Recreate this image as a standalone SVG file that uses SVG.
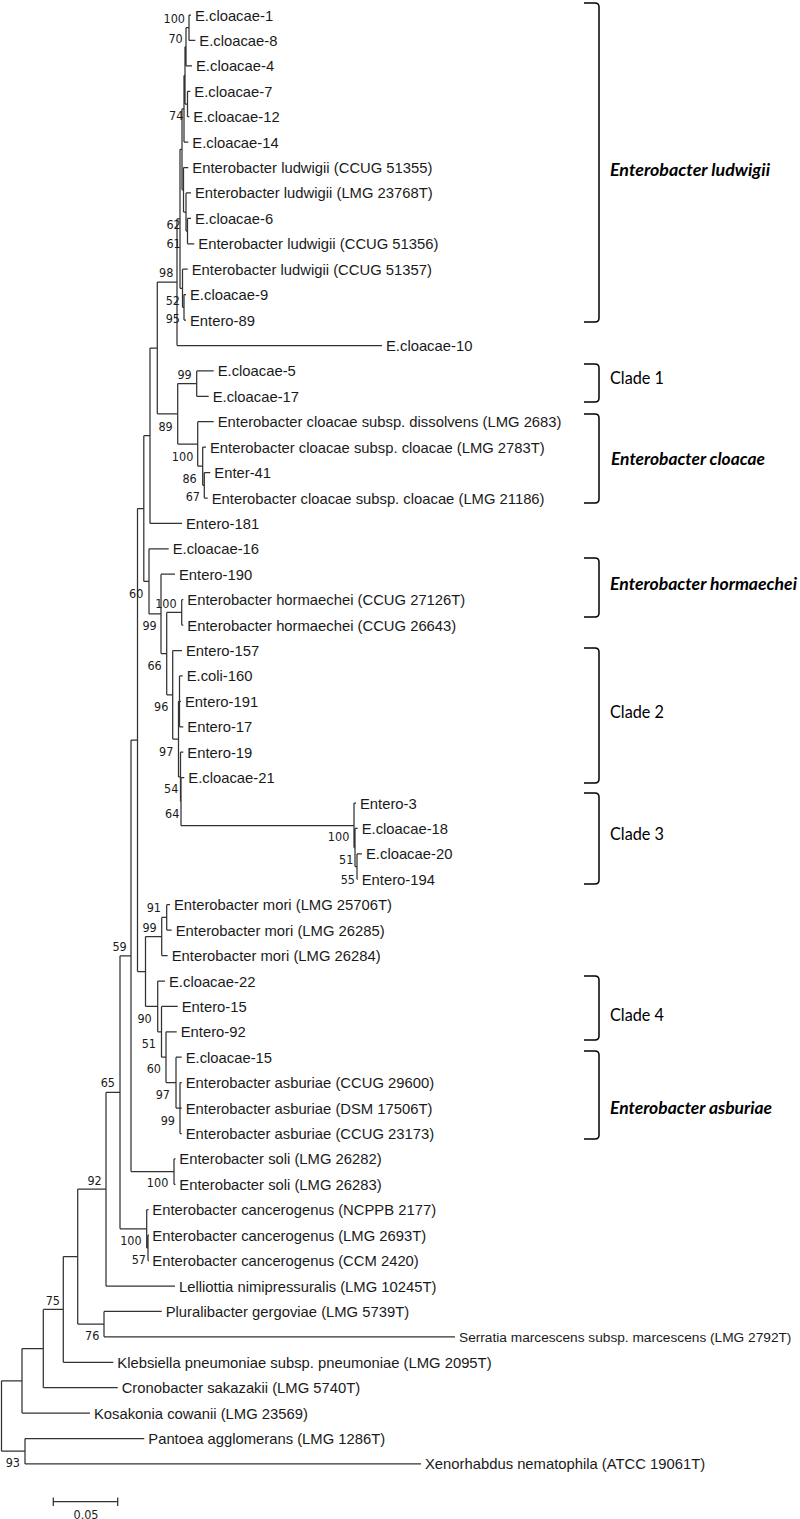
<svg xmlns="http://www.w3.org/2000/svg" width="800" height="1519" viewBox="0 0 800 1519">
<style>
.t{font-family:"Liberation Sans",Arial,sans-serif;font-size:14.8px;fill:#1a1a1a}
.b{font-family:"DejaVu Sans Condensed","DejaVu Sans",sans-serif;font-size:12.5px;text-anchor:end;fill:#1a1a1a}
.c{font-family:Lato,"Open Sans",sans-serif;font-size:16.5px;fill:#000}
.ci{font-weight:bold;font-style:italic}
.br{fill:none;stroke:#000;stroke-width:1.5}
.ln{fill:none;stroke:#333;stroke-width:1.25}
</style>
<rect width="800" height="1519" fill="#fff"/>
<g id="connectors" class="ln">
<path d="M1.5,1380.8V1451.2M1.5,1380.8H22M1.5,1451.2H25
M22,1348.6V1413.1M22,1348.6H43.3M22,1413.1H90
M25,1438.5V1463.9M25,1438.5H144.3M25,1463.9H421
M43.3,1309.4V1387.7M43.3,1309.4H63.3M43.3,1387.7H117.7
M63.3,1256.6V1362.3M63.3,1256.6H77.7M63.3,1362.3H113.3
M77.7,1189.1V1324.1M77.7,1189.1H106M77.7,1324.1H104
M104,1311.4V1336.8M104,1311.4H161.7M104,1336.8H455
M106,1092.3V1286M106,1092.3H120M106,1286H175
M120,955.8V1228.8M120,955.8H131M120,1228.8H146.7
M146.7,1209.7V1247.9M146.7,1209.7H148.5M146.7,1247.9H148
M148,1235.2V1260.6M148,1235.2H149M148,1260.6H149
M131,740V1171.6M131,740H137.5M131,1171.6H174
M174,1158.9V1184.3M174,1158.9H175.5M174,1184.3H175.5
M137.5,508.5V971.5M137.5,508.5H143.8M137.5,971.5H145.5
M145.5,936.5V1006.4M145.5,936.5H161.7M145.5,1006.4H157.7
M161.7,917.4V955.5M161.7,917.4H166.7M161.7,955.5H167.7
M166.7,904.7V930.1M166.7,904.7H170M166.7,930.1H171.7
M157.7,981V1031.8M157.7,981H165M157.7,1031.8H161.5
M161.5,1006.4V1057.2M161.5,1006.4H177.7M161.5,1057.2H166
M166,1031.8V1082.6M166,1031.8H176.7M166,1082.6H176
M176,1057.2V1108M176,1057.2H181.7M176,1108H180
M180,1082.6V1133.5M180,1082.6H181.7M180,1108.1H181.7M180,1133.5H181.7
M143.8,435.7V581.4M143.8,435.7H150M143.8,581.4H149
M150,348V523.4M150,348H157.3M150,523.4H182
M157.3,282.1V413.8M157.3,282.1H177M157.3,413.8H177.7
M177,218.8V345.5M177,218.8H180M177,345.5H382
M177.7,383.6V444M177.7,383.6H196.7M177.7,444H197.7
M196.7,370.9V396.3M196.7,370.9H213.7M196.7,396.3H208.7
M197.7,421.7V466.2M197.7,421.7H213.7M197.7,466.2H202.7
M202.7,447.1V485.3M202.7,447.1H206M202.7,485.3H204.3
M204.3,472.6V498M204.3,472.6H210.3M204.3,498H207.7
M149,548.8V613.9M149,548.8H168.7M149,613.9H161
M161,574.2V653.6M161,574.2H175M161,653.6H166.7
M166.7,612.4V694.8M166.7,612.4H181.7M166.7,694.8H172.7
M181.7,599.7V625.1M181.7,599.7H183.3M181.7,625.1H183.3
M172.7,650.5V739.1M172.7,650.5H182M172.7,739.1H178.5
M178.5,701.3V776.9M178.5,701.3H179.5M178.5,776.9H180.5
M179.5,675.9V726.8M179.5,675.9H182.7M179.5,701.3H181M179.5,726.8H183.3
M180.5,752.2V801.6M180.5,752.2H183.3M180.5,801.6H181
M181,777.6V825.7M181,777.6H184.3M181,825.7H354
M354,803V847.5M354,803H356M354,847.5H355
M355,828.4V866.6M355,828.4H357.7M355,866.6H357
M357,853.9V879.3M357,853.9H362M357,879.3H357.7
M180,149.3V288.3M180,149.3H182M180,288.3H182.5
M182,108.8V189.75M182,108.8H184M182,189.75H183.5
M184,75.4V142.1M184,75.4H185M184,142.1H188.3
M185,46.8V104M185,46.8H186M185,104H187.5
M186,27.7V65.8M186,27.7H189M186,65.8H192
M189,15V40.4M189,15H191M189,40.4H195.3
M187.5,91.3V116.7M187.5,91.3H190.3M187.5,116.7H189.3
M183.5,167.5V212M183.5,167.5H188.3M183.5,212H186
M186,192.9V231.1M186,192.9H191M186,231.1H187.5
M187.5,218.4V243.8M187.5,218.4H191M187.5,243.8H194.3
M182.5,269.2V307.3M182.5,269.2H187.7M182.5,307.3H184
M184,294.6V320M184,294.6H186M184,320H186"/>
</g>
<g id="leaves" class="t">
<g id="n0"><text x="195" y="20.5">E.cloacae-1</text></g>
<g id="n1"><text x="199.3" y="45.9">E.cloacae-8</text></g>
<g id="n2"><text x="196" y="71.3">E.cloacae-4</text></g>
<g id="n3"><text x="194.3" y="96.8">E.cloacae-7</text></g>
<g id="n4"><text x="193.3" y="122.2">E.cloacae-12</text></g>
<g id="n5"><text x="192.3" y="147.6">E.cloacae-14</text></g>
<g id="n6"><text x="192.3" y="173">Enterobacter ludwigii (CCUG 51355)</text></g>
<g id="n7"><text x="195" y="198.4">Enterobacter ludwigii (LMG 23768T)</text></g>
<g id="n8"><text x="195" y="223.9">E.cloacae-6</text></g>
<g id="n9"><text x="198.3" y="249.3">Enterobacter ludwigii (CCUG 51356)</text></g>
<g id="n10"><text x="191.7" y="274.7">Enterobacter ludwigii (CCUG 51357)</text></g>
<g id="n11"><text x="190" y="300.1">E.cloacae-9</text></g>
<g id="n12"><text x="190" y="325.5">Entero-89</text></g>
<g id="n13"><text x="386" y="351">E.cloacae-10</text></g>
<g id="n14"><text x="217.7" y="376.4">E.cloacae-5</text></g>
<g id="n15"><text x="212.7" y="401.8">E.cloacae-17</text></g>
<g id="n16"><text x="217.7" y="427.2">Enterobacter cloacae subsp. dissolvens (LMG 2683)</text></g>
<g id="n17"><text x="210" y="452.6">Enterobacter cloacae subsp. cloacae (LMG 2783T)</text></g>
<g id="n18"><text x="214.3" y="478.1">Enter-41</text></g>
<g id="n19"><text x="211.7" y="503.5">Enterobacter cloacae subsp. cloacae (LMG 21186)</text></g>
<g id="n20"><text x="186" y="528.9">Entero-181</text></g>
<g id="n21"><text x="172.7" y="554.3">E.cloacae-16</text></g>
<g id="n22"><text x="179" y="579.7">Entero-190</text></g>
<g id="n23"><text x="187.3" y="605.2">Enterobacter hormaechei (CCUG 27126T)</text></g>
<g id="n24"><text x="187.3" y="630.6">Enterobacter hormaechei (CCUG 26643)</text></g>
<g id="n25"><text x="186" y="656">Entero-157</text></g>
<g id="n26"><text x="186.7" y="681.4">E.coli-160</text></g>
<g id="n27"><text x="185" y="706.8">Entero-191</text></g>
<g id="n28"><text x="187.3" y="732.3">Entero-17</text></g>
<g id="n29"><text x="187.3" y="757.7">Entero-19</text></g>
<g id="n30"><text x="188.3" y="783.1">E.cloacae-21</text></g>
<g id="n31"><text x="360" y="808.5">Entero-3</text></g>
<g id="n32"><text x="361.7" y="833.9">E.cloacae-18</text></g>
<g id="n33"><text x="366" y="859.4">E.cloacae-20</text></g>
<g id="n34"><text x="361.7" y="884.8">Entero-194</text></g>
<g id="n35"><text x="174" y="910.2">Enterobacter mori (LMG 25706T)</text></g>
<g id="n36"><text x="175.7" y="935.6">Enterobacter mori (LMG 26285)</text></g>
<g id="n37"><text x="171.7" y="961">Enterobacter mori (LMG 26284)</text></g>
<g id="n38"><text x="169" y="986.5">E.cloacae-22</text></g>
<g id="n39"><text x="181.7" y="1011.9">Entero-15</text></g>
<g id="n40"><text x="180.7" y="1037.3">Entero-92</text></g>
<g id="n41"><text x="185.7" y="1062.7">E.cloacae-15</text></g>
<g id="n42"><text x="185.7" y="1088.1">Enterobacter asburiae (CCUG 29600)</text></g>
<g id="n43"><text x="185.7" y="1113.6">Enterobacter asburiae (DSM 17506T)</text></g>
<g id="n44"><text x="185.7" y="1139">Enterobacter asburiae (CCUG 23173)</text></g>
<g id="n45"><text x="179.3" y="1164.4">Enterobacter soli (LMG 26282)</text></g>
<g id="n46"><text x="179.3" y="1189.8">Enterobacter soli (LMG 26283)</text></g>
<g id="n47"><text x="152.3" y="1215.2">Enterobacter cancerogenus (NCPPB 2177)</text></g>
<g id="n48"><text x="152.3" y="1240.7">Enterobacter cancerogenus (LMG 2693T)</text></g>
<g id="n49"><text x="152.3" y="1266.1">Enterobacter cancerogenus (CCM 2420)</text></g>
<g id="n50"><text x="179" y="1291.5">Lelliottia nimipressuralis (LMG 10245T)</text></g>
<g id="n51"><text x="165.7" y="1316.9">Pluralibacter gergoviae (LMG 5739T)</text></g>
<g id="n52"><text x="459" y="1342.1" style="font-size:13.7px">Serratia marcescens subsp. marcescens (LMG 2792T)</text></g>
<g id="n53"><text x="117.3" y="1367.8">Klebsiella pneumoniae subsp. pneumoniae (LMG 2095T)</text></g>
<g id="n54"><text x="121.7" y="1393.2">Cronobacter sakazakii (LMG 5740T)</text></g>
<g id="n55"><text x="94" y="1418.6">Kosakonia cowanii (LMG 23569)</text></g>
<g id="n56"><text x="148.3" y="1444">Pantoea agglomerans (LMG 1286T)</text></g>
<g id="n57"><text x="425" y="1469.4">Xenorhabdus nematophila (ATCC 19061T)</text></g>
</g>
<g id="bootstrap" class="b">
<text x="185" y="22.9">100</text>
<text x="182.7" y="42.9">70</text>
<text x="183.3" y="119.6">74</text>
<text x="180.7" y="228.9">62</text>
<text x="180.7" y="247.9">61</text>
<text x="173.3" y="277.3">98</text>
<text x="180" y="304.6">52</text>
<text x="180" y="322.9">95</text>
<text x="191.7" y="378.9">99</text>
<text x="172.7" y="430.6">89</text>
<text x="193.3" y="460.6">100</text>
<text x="196.7" y="482.9">86</text>
<text x="200" y="501.3">67</text>
<text x="143.3" y="597.9">60</text>
<text x="176.7" y="607.9">100</text>
<text x="156.7" y="630.3">99</text>
<text x="161.7" y="669.6">66</text>
<text x="168.3" y="711.3">96</text>
<text x="173.3" y="755.6">97</text>
<text x="178.3" y="792.9">54</text>
<text x="179.3" y="817.9">64</text>
<text x="349.3" y="841.3">100</text>
<text x="353.3" y="863.9">51</text>
<text x="355" y="883.6">55</text>
<text x="161" y="911.9">91</text>
<text x="156.7" y="932.3">99</text>
<text x="126.7" y="951.3">59</text>
<text x="151.7" y="1022.9">90</text>
<text x="156" y="1047.9">51</text>
<text x="161" y="1072.9">60</text>
<text x="170" y="1098.9">97</text>
<text x="175" y="1125.3">99</text>
<text x="115" y="1087.3">65</text>
<text x="168.3" y="1187.3">100</text>
<text x="101.7" y="1184.6">92</text>
<text x="141.7" y="1245.3">100</text>
<text x="146" y="1263.9">57</text>
<text x="60" y="1304.6">75</text>
<text x="99.3" y="1339.6">76</text>
<text x="20" y="1467.3">93</text>
</g>
<g id="clades">
<g id="clade-ludwigii"><path class="br" d="M584,3H595Q599,3 599,7V318Q599,322 595,322H584"/><text class="c ci" x="610" y="176" textLength="160" lengthAdjust="spacingAndGlyphs">Enterobacter ludwigii</text></g>
<g id="clade-1"><path class="br" d="M584,364H595Q599,364 599,368V398Q599,402 595,402H584"/><text class="c" x="610" y="384" textLength="54" lengthAdjust="spacingAndGlyphs">Clade 1</text></g>
<g id="clade-cloacae"><path class="br" d="M584,414H595Q599,414 599,418V499Q599,503 595,503H584"/><text class="c ci" x="611" y="465" textLength="154" lengthAdjust="spacingAndGlyphs">Enterobacter cloacae</text></g>
<g id="clade-hormaechei"><path class="br" d="M584,558H595Q599,558 599,562V613Q599,617 595,617H584"/><text class="c ci" x="610" y="590" textLength="187" lengthAdjust="spacingAndGlyphs">Enterobacter hormaechei</text></g>
<g id="clade-2"><path class="br" d="M584,648H595Q599,648 599,652V779Q599,783 595,783H584"/><text class="c" x="610" y="718" textLength="54" lengthAdjust="spacingAndGlyphs">Clade 2</text></g>
<g id="clade-3"><path class="br" d="M584,793H595Q599,793 599,797V880Q599,884 595,884H584"/><text class="c" x="610" y="840" textLength="54" lengthAdjust="spacingAndGlyphs">Clade 3</text></g>
<g id="clade-4"><path class="br" d="M584,976H595Q599,976 599,980V1036Q599,1040 595,1040H584"/><text class="c" x="610" y="1021" textLength="54" lengthAdjust="spacingAndGlyphs">Clade 4</text></g>
<g id="clade-asburiae"><path class="br" d="M584,1051H595Q599,1051 599,1055V1135Q599,1139 595,1139H584"/><text class="c ci" x="610" y="1114" textLength="162" lengthAdjust="spacingAndGlyphs">Enterobacter asburiae</text></g>
</g>
<g id="scale-bar">
<path class="ln" d="M53.3,1501.7H117.7M53.3,1497.5V1506M117.7,1497.5V1506"/>
<text class="b" x="86" y="1518.9" style="text-anchor:middle">0.05</text>
</g>
</svg>
